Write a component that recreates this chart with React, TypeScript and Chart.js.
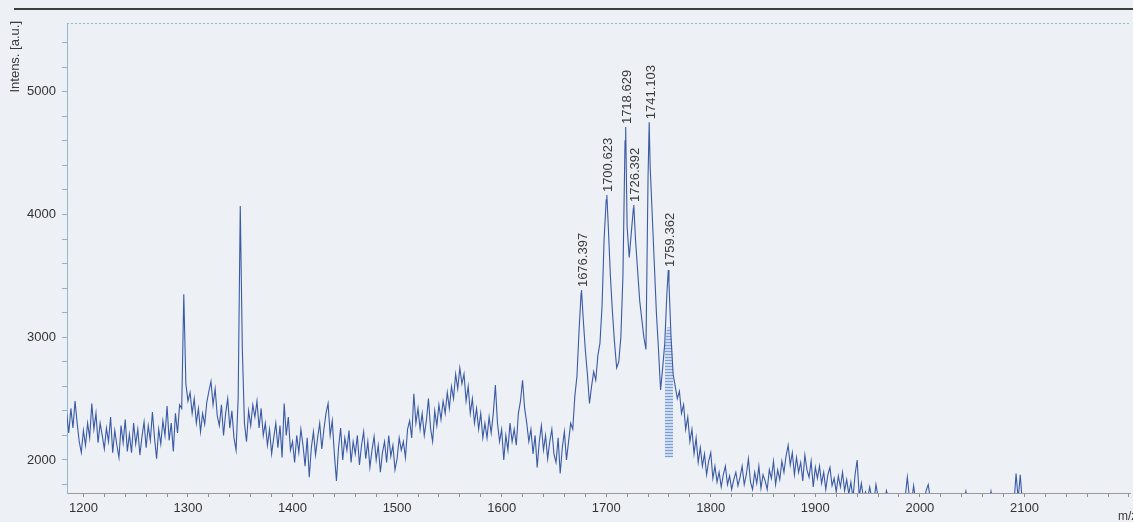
import React, { useEffect, useRef } from "react";
import { Chart, registerables } from "chart.js";

Chart.register(...registerables);

// ---- data ----
const mzStep = 2;

// 1184 – 1382 m/z
const intensA = [
  2380, 2220, 2420, 2260, 2480, 2300, 2150, 2060, 2240, 2120,
  2300, 2180, 2460, 2250, 2380, 2140, 2300, 2200, 2090, 2260,
  2150, 2350, 2060, 2240, 2120, 2020, 2280, 2140, 2330, 2070,
  2210, 2060, 2300, 2130, 2250, 2040, 2190, 2310, 2100, 2280,
  2160, 2390, 2180, 2010, 2250, 2130, 2320, 2200, 2440, 2160,
  2300, 2070, 2380, 2220, 2450, 2420, 3350, 2620, 2480, 2550,
  2380, 2500, 2300, 2420, 2230, 2380, 2290, 2470, 2560, 2640,
  2450, 2580, 2360, 2280, 2450, 2200, 2380, 2500, 2260, 2400,
  2180, 2080, 2500, 4070, 2900, 2300, 2150, 2400, 2280, 2450,
  2350, 2480, 2260, 2420, 2200, 2300, 2120, 2250, 2050, 2180,
];
// 1384 – 1582 m/z
const intensB = [
  2300, 2100, 2280, 2020, 2460, 2200, 2350, 2080, 2150, 1980,
  2200, 2060, 2250, 2120, 1950, 2180, 1860, 2100, 2230, 2040,
  2180, 2300, 2090, 2250, 2380, 2460, 2200, 2320, 2050, 1830,
  2100, 2260, 2000, 2180, 2080, 2240, 1980, 2150, 2050, 2200,
  1960, 2120, 2230, 2010, 2150, 1940, 2080, 2190, 2000, 2120,
  1900, 2060, 2150, 1980, 2200, 2030, 2120, 1920, 2010, 2180,
  2080, 2150, 2020, 2250, 2320, 2180, 2540, 2300, 2420, 2250,
  2380, 2200, 2320, 2500, 2260, 2150, 2400, 2280, 2450, 2330,
  2480, 2380, 2550, 2420, 2600, 2500, 2700, 2580, 2750, 2620,
  2700, 2480, 2600, 2380, 2500, 2300, 2420, 2250, 2380, 2180,
];
// 1584 – 1782 m/z
const intensC = [
  2300, 2180, 2350, 2220, 2380, 2610, 2300, 2150, 2250, 2000,
  2200, 2080, 2300, 2150, 2250, 2120, 2380, 2480, 2650, 2420,
  2300, 2150, 2250, 2050, 2200, 1940, 2150, 2280, 2080, 2200,
  2010, 2150, 2250, 2050, 1980, 2180, 1890, 2100, 2230, 2000,
  2150, 2300, 2250, 2520, 2680, 3050, 3360, 3150, 2900, 2700,
  2460, 2600, 2720, 2650, 2850, 2950, 3250, 3800, 4120, 3900,
  3500, 3200, 2950, 2750, 2800, 3000, 3500, 4600, 3900, 3650,
  3850, 4050, 3800, 3550, 3300, 3150, 3000, 2900, 4300, 4400,
  4000, 3600, 3200, 2900, 2570, 2750, 2950, 3350, 3450, 3000,
  2700, 2600, 2500, 2560, 2380, 2450, 2250, 2350, 2150, 2250,
];
// 1784 – 1982 m/z
const intensD = [
  2050, 2180, 1980, 2100, 1950, 2050, 1880, 1990, 2060, 1850,
  1950, 1820, 1900, 1780, 1880, 1950, 1800, 1870, 1760, 1840,
  1900, 1790, 1860, 1950, 1800, 1880, 2010, 1820, 1760, 1900,
  1810, 1950, 1770, 1880, 1830, 1760, 1920, 1850, 1990, 1800,
  1920, 1840, 1990, 1900, 2030, 2120, 1960, 2060, 1880, 2020,
  1900, 1980, 1830, 2040, 1920, 1860, 1990, 1780, 1940, 1850,
  1950, 1810, 1900, 1760, 1880, 1940, 1790, 1850, 1740, 1870,
  1780, 1900, 1750, 1840, 1720, 1820, 1690, 1880, 2000, 1700,
  1810, 1690, 1740, 1680, 1780, 1690, 1660, 1800, 1700, 1680,
  1700, 1650, 1750, 1690, 1670, 1660, 1700, 1650, 1680, 1660,
];
// 1984 – 2198 m/z
const intensE = [
  1670, 1700, 1860, 1690, 1650, 1790, 1660, 1680, 1650, 1670,
  1660, 1750, 1800, 1680, 1650, 1660, 1670, 1650, 1660, 1650,
  1660, 1650, 1670, 1660, 1650, 1660, 1650, 1670, 1650, 1660,
  1745, 1660, 1650, 1660, 1650, 1665, 1650, 1660, 1650, 1660,
  1650, 1660, 1745, 1650, 1660, 1650, 1670, 1650, 1660, 1650,
  1660, 1650, 1670, 1650, 1890, 1680, 1880, 1650, 1660, 1650,
  1660, 1650, 1660, 1650, 1660, 1650, 1660, 1650, 1660, 1650,
  1650, 1660, 1650, 1660, 1650, 1660, 1650, 1660, 1650, 1660,
  1650, 1660, 1650, 1660, 1650, 1660, 1650, 1660, 1650, 1660,
  1650, 1660, 1650, 1660, 1650, 1660, 1650, 1660, 1650, 1660,
  1650, 1660, 1650, 1660, 1650, 1660, 1650, 1660,
];
const segmentStarts = [1184, 1384, 1584, 1784, 1984];
const segmentValues = [intensA, intensB, intensC, intensD, intensE];

// labelled peaks
const peakMz = [1676.397, 1700.623, 1718.629, 1726.392, 1741.103, 1759.362];
const peakIntensity = [3384, 4158, 4712, 4077, 4752, 3547];

// shaded (integrated) area under 1759.362
const shadeMz = [1756, 1758, 1759.362, 1761, 1763, 1764];
const shadeTop = [2900, 3080, 3080, 3080, 2950, 2700];
const shadeBase = 2020;

// axes
const xMin = 1184.3;
const xMax = 2201;
const yMin = 1731;
const yMax = 5560;
const xMinorStep = 20;
const xMajorTicks = [1200, 1300, 1400, 1500, 1600, 1700, 1800, 1900, 2000, 2100];
const yMinorStep = 200;
const yMajorTicks = [2000, 3000, 4000, 5000];
const yTitle = "Intens. [a.u.]";
const xTitle = "m/z";

const FONT = "'Liberation Sans', Arial, sans-serif";

function stepTicks(min: number, max: number, step: number) {
  const out: { value: number }[] = [];
  for (let v = Math.ceil(min / step) * step; v <= max; v += step) out.push({ value: v });
  return out;
}

function makeHatch(ctx: CanvasRenderingContext2D) {
  const c = document.createElement("canvas");
  c.width = 4;
  c.height = 3;
  const g = c.getContext("2d")!;
  g.fillStyle = "rgba(150,180,225,0.35)";
  g.fillRect(0, 0, 4, 3);
  g.fillStyle = "rgba(105,145,210,0.8)";
  g.fillRect(0, 0, 4, 1);
  return ctx.createPattern(c, "repeat") as CanvasPattern;
}

export default function App() {
  const ref = useRef<HTMLCanvasElement | null>(null);

  useEffect(() => {
    if (!ref.current) return;
    const points: { x: number; y: number }[] = [];
    segmentValues.forEach((vals, s) => {
      vals.forEach((v, i) => points.push({ x: segmentStarts[s] + i * mzStep, y: v }));
    });
    peakMz.forEach((m, i) => points.push({ x: m, y: peakIntensity[i] }));
    points.sort((a, b) => a.x - b.x);

    const shade = shadeMz.map((m, i) => ({ x: m, y: shadeTop[i] }));
    const hatch = makeHatch(ref.current.getContext("2d")!);

    const decor = {
      id: "decor",
      beforeDraw(chart: any) {
        const { ctx, width, height, chartArea } = chart;
        ctx.save();
        ctx.fillStyle = "#edf0f4";
        ctx.fillRect(0, 0, width, height);
        // scan header rule
        ctx.strokeStyle = "#3c3f3c";
        ctx.lineWidth = 2;
        ctx.beginPath();
        ctx.moveTo(14, 9);
        ctx.lineTo(width, 9);
        ctx.stroke();
        // dotted top frame
        ctx.strokeStyle = "#93b9cc";
        ctx.lineWidth = 1;
        ctx.setLineDash([2, 2]);
        ctx.beginPath();
        ctx.moveTo(chartArea.left, chartArea.top + 0.5);
        ctx.lineTo(chartArea.right, chartArea.top + 0.5);
        ctx.stroke();
        ctx.restore();
      },
      afterDatasetsDraw(chart: any) {
        const { ctx } = chart;
        const xs = chart.scales.x;
        const ys = chart.scales.y;
        ctx.save();
        ctx.fillStyle = "#3a3a3a";
        ctx.font = `13px ${FONT}`;
        ctx.textBaseline = "middle";
        ctx.textAlign = "left";
        peakMz.forEach((m, i) => {
          const px = xs.getPixelForValue(m);
          const py = ys.getPixelForValue(peakIntensity[i]);
          ctx.save();
          ctx.translate(px + 2, py - 3);
          ctx.rotate(-Math.PI / 2);
          ctx.fillText(m.toFixed(3), 0, 0);
          ctx.restore();
        });
        // y title
        ctx.font = `13px ${FONT}`;
        ctx.save();
        ctx.translate(15, 21);
        ctx.rotate(-Math.PI / 2);
        ctx.textAlign = "right";
        ctx.fillText(yTitle, 0, 0);
        ctx.restore();
        // x title (cut by the right edge as in the scan)
        ctx.font = `12px ${FONT}`;
        ctx.textAlign = "left";
        ctx.fillText(xTitle, 1118, 517);
        ctx.restore();
      },
    };

    const chart = new Chart(ref.current, {
      type: "line",
      data: {
        datasets: [
          {
            data: points,
            borderColor: "#3a5aa6",
            borderWidth: 1.1,
            pointRadius: 0,
            tension: 0,
            fill: false,
          },
          {
            data: shade,
            borderColor: "rgba(0,0,0,0)",
            backgroundColor: hatch,
            borderWidth: 0,
            pointRadius: 0,
            fill: { value: shadeBase },
          },
        ],
      },
      options: {
        responsive: false,
        animation: false,
        devicePixelRatio: 1,
        parsing: false,
        layout: { padding: { top: 23, right: 0, bottom: 0, left: 0 } },
        plugins: { legend: { display: false }, tooltip: { enabled: false } },
        scales: {
          x: {
            type: "linear",
            min: xMin,
            max: xMax,
            afterFit: (s: any) => {
              s.height = 29;
            },
            afterBuildTicks: (s: any) => {
              s.ticks = stepTicks(xMin, xMax, xMinorStep);
            },
            ticks: {
              autoSkip: false,
              maxRotation: 0,
              padding: 4,
              color: "#333",
              font: { family: FONT, size: 13 },
              callback: (v: any) => (xMajorTicks.includes(Number(v)) ? String(v) : ""),
            },
            grid: {
              drawOnChartArea: false,
              drawTicks: true,
              tickLength: 4,
              color: "#8d8d8d",
            },
            border: { display: true, color: "#9a9a9a", width: 1 },
          },
          y: {
            type: "linear",
            min: yMin,
            max: yMax,
            afterFit: (s: any) => {
              s.width = 67;
            },
            afterBuildTicks: (s: any) => {
              s.ticks = stepTicks(yMin, yMax, yMinorStep);
            },
            ticks: {
              autoSkip: false,
              padding: 6,
              color: "#333",
              font: { family: FONT, size: 13 },
              callback: (v: any) => (yMajorTicks.includes(Number(v)) ? String(v) : ""),
            },
            grid: {
              drawOnChartArea: false,
              drawTicks: true,
              tickLength: 5,
              color: "#8fb4c6",
            },
            border: { display: true, color: "#93b9cc", width: 1, dash: [2, 2] },
          },
        },
      },
      plugins: [decor],
    });
    return () => chart.destroy();
  }, []);

  return (
    <div
      style={{
        position: "fixed",
        left: 0,
        top: 0,
        width: 1133,
        height: 522,
        overflow: "hidden",
        background: "#edf0f4",
      }}
    >
      <canvas ref={ref} width={1133} height={522} style={{ display: "block" }} />
    </div>
  );
}
